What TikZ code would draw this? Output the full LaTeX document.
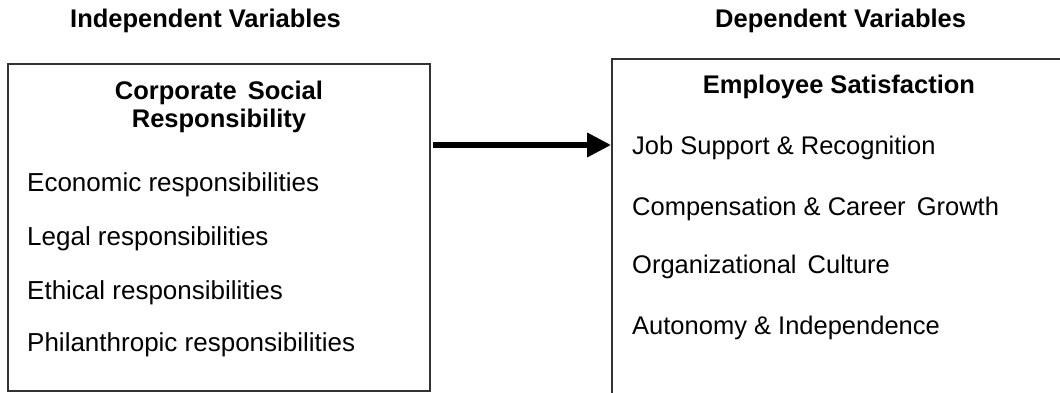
\documentclass[tikz,border=0pt]{standalone}
\usepackage{fontspec}
\setmainfont{Liberation Sans}
\usetikzlibrary{arrows.meta}
\begin{document}
\begin{tikzpicture}[x=1pt,y=-1pt,
  boxline/.style={draw=black!80,line width=1.6pt,rectangle,inner sep=0pt},
  head/.style={anchor=base west,inner sep=0pt,font=\fontsize{25.5}{28}\selectfont\bfseries},
  ttl/.style={anchor=base,inner sep=0pt,font=\fontsize{25.5}{28}\selectfont\bfseries},
  itemL/.style={anchor=base west,inner sep=0pt,font=\fontsize{26}{30}\selectfont},
  itemR/.style={anchor=base west,inner sep=0pt,font=\fontsize{25.5}{30}\selectfont},
  arr/.style={-{Triangle[length=24pt,width=23pt]},line width=6.5pt,black}]
\useasboundingbox (0,0) rectangle (1060,393);
\clip (0,0) rectangle (1060,393);
\fill[white] (0,0) rectangle (1060,393);
% headers
\node[head] (hind) at (70,28) {Independent Variables};
\node[head] (hdep) at (715,28) {Dependent Variables};
% boxes
\node[boxline,minimum width=422pt,minimum height=327pt] (lbox) at (219,227.5) {};
\node[boxline,minimum width=454pt,minimum height=361pt] (rbox) at (839,239.5) {};
% titles
\node[ttl] (t1) at (219,100) {Corporate\hspace{4pt} Social};
\node[ttl] (t2) at (219,128) {Responsibility};
\node[ttl] (t3) at (839,94) {Employee Satisfaction};
% left items
\node[itemL] (l1) at (27,191) {Economic responsibilities};
\node[itemL] (l2) at (27,245) {Legal responsibilities};
\node[itemL] (l3) at (27,299) {Ethical responsibilities};
\node[itemL] (l4) at (27,351) {Philanthropic responsibilities};
% right items
\node[itemR] (r1) at (632,154) {Job Support \& Recognition};
\node[itemR] (r2) at (632,215) {Compensation \& Career\hspace{4pt} Growth};
\node[itemR] (r3) at (632,273) {Organizational\hspace{4pt} Culture};
\node[itemR] (r4) at (632,334) {Autonomy \& Independence};
% arrow
\coordinate (ay) at (0,145);
\draw[arr,shorten <=2pt] (lbox.east |- ay) -- (rbox.west |- ay);
\end{tikzpicture}
\end{document}
